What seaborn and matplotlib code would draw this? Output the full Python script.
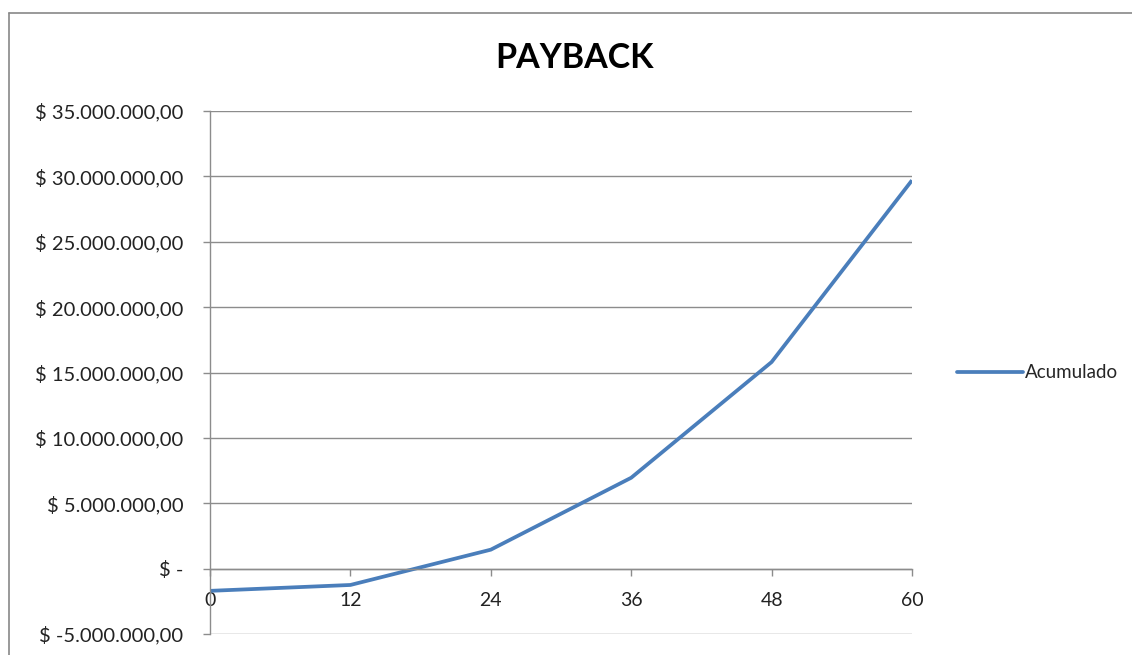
import matplotlib
matplotlib.use("Agg")
import matplotlib.pyplot as plt
from matplotlib.lines import Line2D
import seaborn as sns
import pandas as pd

# Cumulative cash flow by month
meses = [0, 12, 24, 36, 48, 60]
acumulado = [-1700000, -1250000, 1450000, 6950000, 15800000, 29700000]

y_ticks = [-5000000, 0, 5000000, 10000000, 15000000, 20000000, 25000000, 30000000, 35000000]
y_labels = ["$ -5.000.000,00", "$ -", "$ 5.000.000,00", "$ 10.000.000,00",
            "$ 15.000.000,00", "$ 20.000.000,00", "$ 25.000.000,00",
            "$ 30.000.000,00", "$ 35.000.000,00"]

sns.set_style("white")
plt.rcParams["font.family"] = ["Lato", "DejaVu Sans"]

W, H = 1132, 655
fig = plt.figure(figsize=(W / 100, H / 100), dpi=100)
ax = fig.add_axes([210 / W, 1 - 634 / H, (912 - 210) / W, (634 - 111) / H])

df = pd.DataFrame({"Mes": meses, "Acumulado": acumulado})
sns.lineplot(data=df, x="Mes", y="Acumulado", ax=ax, color="#4A7EBB",
             linewidth=2.7, legend=False, solid_capstyle="butt")

grid_c = "#8c8c8c"
for s in ("top", "right"):
    ax.spines[s].set_visible(False)
ax.spines["left"].set_color(grid_c)
ax.spines["left"].set_linewidth(1.0)
# horizontal axis crosses at zero (set before ticks: it resets them)
ax.spines["bottom"].set_position(("data", 0))
ax.spines["bottom"].set_color(grid_c)
ax.spines["bottom"].set_linewidth(1.0)

ax.set_xlim(0, 60)
ax.set_ylim(-5000000, 35000000)
ax.set_xticks(meses)
ax.set_xticklabels([str(m) for m in meses], fontsize=14, color="#222222")
ax.set_yticks(y_ticks)
ax.set_yticklabels(y_labels, fontsize=14.5, color="#222222")
ax.set_xlabel("")
ax.set_ylabel("")

ax.yaxis.grid(True, color=grid_c, linewidth=1.0)
ax.xaxis.grid(False)
ax.set_axisbelow(True)

ax.tick_params(axis="y", direction="out", length=5, width=1.0, color=grid_c, pad=14, left=True)
ax.tick_params(axis="x", direction="out", length=5, width=1.0, color=grid_c, pad=12, bottom=True)

fig.text(575 / W, 1 - 58 / H, "PAYBACK", ha="center", va="center",
         fontsize=24.5, fontweight="bold", color="#000000")

handle = Line2D([], [], color="#4A7EBB", linewidth=2.7)
fig.legend([handle], ["Acumulado"], loc="center left",
           bbox_to_anchor=(957 / W, 1 - 373 / H), frameon=False,
           fontsize=13.5, handlelength=3.5, handletextpad=0.1,
           borderaxespad=0, borderpad=0)

# chart frame
fig.add_artist(Line2D([8.5 / W, 8.5 / W], [0, 1 - 12.5 / H],
                      transform=fig.transFigure, color="#888888", linewidth=1.2))
fig.add_artist(Line2D([8.5 / W, 1], [1 - 12.5 / H, 1 - 12.5 / H],
                      transform=fig.transFigure, color="#888888", linewidth=1.2))

fig.savefig("out.png", dpi=100, facecolor="white")
